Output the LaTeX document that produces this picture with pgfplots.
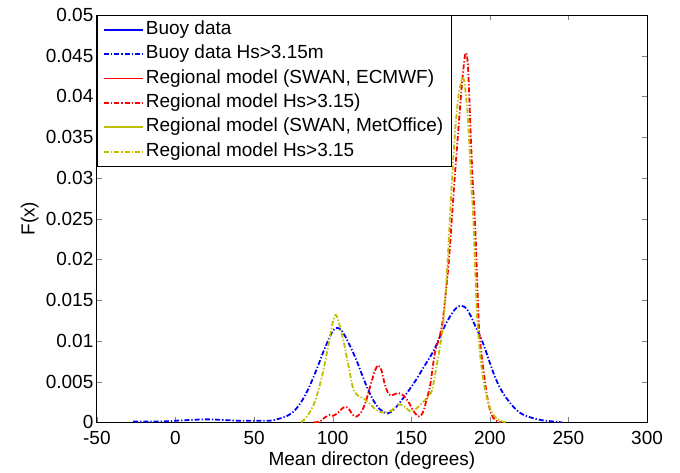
\documentclass[border=0pt]{standalone}
\usepackage{pgfplots}
\pgfplotsset{compat=1.18}
\usepackage{fontspec}
\setmainfont{Liberation Sans}
\definecolor{myyellow}{RGB}{191,191,0}
\begin{document}
\begin{tikzpicture}
\begin{axis}[
    scale only axis,
    width=551bp, height=408bp,
    xmin=-50, xmax=300, ymin=0, ymax=0.05,
    xtick={-50,0,50,100,150,200,250,300},
    ytick={0,0.005,0.01,0.015,0.02,0.025,0.03,0.035,0.04,0.045,0.05},
    scaled y ticks=false,
    yticklabel style={/pgf/number format/fixed, /pgf/number format/precision=3},
    xticklabel style={yshift=-5bp},
    /pgf/number format/assume math mode=true,
    tick align=inside,
    major tick length=5bp,
    axis line style={line width=0.9bp},
    font=\fontsize{19bp}{21bp}\selectfont,
    xlabel={Mean directon (degrees)},
    ylabel={F(x)},
    xlabel style={at={(axis description cs:0.5,-0.093)}, anchor=center},
    ylabel style={at={(axis description cs:-0.122,0.5)}, rotate=0, anchor=center},
    legend cell align=left,
    legend style={at={(0,1)}, anchor=north west, draw=black, line width=0.8bp,
        inner xsep=6bp, inner ysep=4bp, row sep=3.4bp, column sep=0bp,
        nodes={inner sep=2bp, text height=13bp, text depth=4bp}},
    legend image code/.code={\draw[#1] (0bp,0bp) -- (39bp,0bp);},
    dd/.style={line width=1.8bp, dash pattern=on 5bp off 2bp on 1.3bp off 2bp},
    sl/.style={line width=1.8bp, solid},
]
\addlegendimage{blue, sl}
\addlegendentry{Buoy data}
\addlegendimage{blue, dd}
\addlegendentry{Buoy data Hs>3.15m}
\addlegendimage{red, sl}
\addlegendentry{Regional model (SWAN, ECMWF)}
\addlegendimage{red, dd}
\addlegendentry{Regional model Hs>3.15)}
\addlegendimage{myyellow, sl}
\addlegendentry{Regional model (SWAN, MetOffice)}
\addlegendimage{myyellow, dd}
\addlegendentry{Regional model Hs>3.15}

\addplot[blue, dd, smooth, tension=0.5, forget plot] coordinates {
(-27,0.0001) (-10,0.0001) (0,0.0002) (10,0.0003) (20,0.00037) (30,0.0003)
(40,0.0002) (50,0.0002) (60,0.0002) (65,0.0004) (70,0.0007) (75,0.0013)
(80,0.0025) (85,0.0043) (90,0.0066) (95,0.0091) (100,0.0112) (103,0.0116)
(106,0.0112) (110,0.0098) (115,0.0077) (120,0.0052) (125,0.0030) (130,0.0016)
(135,0.0011) (139,0.0016) (143,0.0025) (148,0.0038) (153,0.0052) (158,0.0068)
(164,0.0087) (168,0.0104) (172,0.0121) (176,0.0134) (179,0.0141) (182,0.0143)
(185,0.0140) (188,0.0130) (191,0.0117) (194,0.0105) (197,0.0090) (200,0.0073)
(203,0.0057) (206,0.0044) (209,0.0034) (212,0.0026) (215,0.0019) (219,0.0012)
(223,0.0008) (232,0.0003) (246,0)
};
\addplot[red, dd, smooth, tension=0.5, forget plot] coordinates {
(88,0) (92,0.0001) (95,0.0006) (98,0.0009) (100,0.0008) (103,0.0011)
(106,0.0017) (108,0.0019) (110,0.0017) (113,0.0009) (115,0.0007) (118,0.0012)
(121,0.0025) (124,0.0045) (127,0.0064) (129,0.0070) (131,0.0064) (133,0.0048)
(135,0.0037) (137,0.0033) (140,0.0035) (142,0.0036) (145,0.0033) (148,0.0026)
(151,0.0015) (154,0.0008) (156,0.0008) (158,0.0015) (160,0.0030) (162,0.0045)
(165,0.0085) (168,0.0105) (170,0.0125) (172,0.0160) (174,0.0200) (176,0.0255)
(178,0.0310) (180,0.0360) (182,0.0410) (184,0.0448) (185,0.0453) (186,0.0440)
(187,0.0395) (188,0.0345) (189,0.0300) (190,0.0265) (191,0.0225) (192,0.0170)
(193,0.0120) (194,0.0095) (196,0.0063) (198,0.0035) (200,0.0016) (202,0.0006)
(205,0.0001) (207,0)
};
\addplot[myyellow, dd, smooth, tension=0.5, forget plot] coordinates {
(80,0) (84,0.0008) (88,0.0022) (91,0.0040) (94,0.0063) (97,0.0092)
(100,0.0122) (102,0.0132) (104,0.0122) (107,0.0099) (110,0.0070) (113,0.0042)
(116,0.0033) (120,0.0029) (124,0.0022) (128,0.0015) (132,0.0012) (136,0.0013)
(140,0.0019) (143,0.0022) (146,0.0019) (149,0.0014) (152,0.0015) (156,0.0022)
(160,0.0030) (163,0.0038) (165,0.0057) (168,0.0090) (170,0.0115) (172,0.0160)
(174,0.0230) (176,0.0300) (178,0.0360) (180,0.0400) (182,0.0420) (183,0.0422)
(184,0.0415) (186,0.0375) (188,0.0300) (189.5,0.0249) (191,0.0170) (192,0.0126)
(194,0.0080) (196,0.0050) (199,0.0024) (202,0.0010) (205,0.0004) (208,0.0001)
(211,0)
};
\end{axis}
\path ([shift={(-97bp,-45bp)}]current axis.south west) rectangle ([shift={(33bp,15bp)}]current axis.north east);
\end{tikzpicture}
\end{document}
